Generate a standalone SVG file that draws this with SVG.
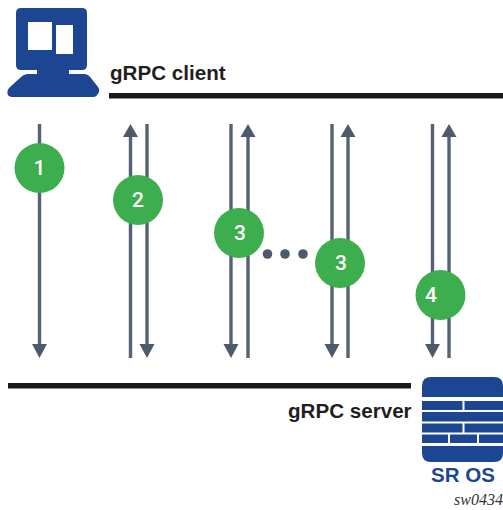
<svg xmlns="http://www.w3.org/2000/svg" width="503" height="510" viewBox="0 0 503 510">
<style>
.c{stroke:#566273;stroke-width:3.4;fill:none}
.h{fill:#4d5a6b}
.bar{fill:#1a1a1a}
.n{fill:#3dae4d}
.nt{font:500 21px "Roboto","Liberation Sans",sans-serif;fill:#fff;text-anchor:middle}
.lb{font:700 20.600px "Liberation Sans",Arial,sans-serif;fill:#1f1f1f}
.b{fill:#1c4691}
</style>
<rect width="503" height="510" fill="#fff"/>
<g id="connectors">
<path class="c" d="M39.500 124V346"/><path class="h" d="M32 344H47L39.500 358Z"/>
<path class="c" d="M130.500 136V358"/><path class="h" d="M123 137H138L130.500 124Z"/>
<path class="c" d="M147 124V346"/><path class="h" d="M139.500 344H154.500L147 358Z"/>
<path class="c" d="M231 124V346"/><path class="h" d="M223.500 344H238.500L231 358Z"/>
<path class="c" d="M248 136V358"/><path class="h" d="M240.500 137H255.500L248 124Z"/>
<path class="c" d="M332 124V346"/><path class="h" d="M324.500 344H339.500L332 358Z"/>
<path class="c" d="M348 136V358"/><path class="h" d="M340.500 137H355.500L348 124Z"/>
<path class="c" d="M432.500 124V346"/><path class="h" d="M425 344H440L432.500 358Z"/>
<path class="c" d="M449 136V358"/><path class="h" d="M441.500 137H456.500L449 124Z"/>
<circle class="h" cx="267.500" cy="254" r="4.800"/><circle class="h" cx="285" cy="254" r="4.800"/><circle class="h" cx="303" cy="254" r="4.800"/>
</g>
<g id="client">
<path class="b" fill-rule="evenodd" d="M21 8H82Q87 8 87 13V65Q87 70 82 70H69V74H84Q88 74 91 78L98 87Q101 91 97 95Q96 97 92 97H14Q9 97 8 95Q6 91 10 87L20 78Q24 74 28 74H37V70H21Q16 70 16 65V13Q16 8 21 8ZM28 22V50H52V22ZM56 25V54H73V25Z"/>
<rect class="bar" x="109" y="93" width="394" height="5.500"/>
<text class="lb" x="110" y="80">gRPC client</text>
</g>
<g id="server">
<rect class="bar" x="8" y="383" width="403" height="5.500"/>
<text class="lb" x="288" y="418">gRPC server</text>
<g class="b">
<path d="M431 377H494Q503 377 503 386V397H422V386Q422 377 431 377Z"/>
<rect x="422" y="401" width="40.500" height="9"/><rect x="464.500" y="401" width="38.500" height="9"/>
<rect x="422" y="412" width="81" height="9.500"/>
<rect x="422" y="423.500" width="40.500" height="9"/><rect x="464.500" y="423.500" width="38.500" height="9"/>
<rect x="422" y="434.500" width="26" height="8.500"/><rect x="450" y="434.500" width="27" height="8.500"/><rect x="479" y="434.500" width="24" height="8.500"/>
<path d="M422 446H503V453Q503 462 494 462H431Q422 462 422 453Z"/>
</g>
<text x="463" y="482" text-anchor="middle" style="font:700 20.500px 'Liberation Sans',Arial,sans-serif;fill:#1c4691">SR OS</text>
</g>
<g id="n1"><circle class="n" cx="39.500" cy="168" r="25"/><text class="nt" x="39.500" y="175">1</text></g>
<g id="n2"><circle class="n" cx="138" cy="200" r="25"/><text class="nt" x="138" y="207">2</text></g>
<g id="n3a"><circle class="n" cx="239" cy="233" r="25"/><text class="nt" x="240" y="240">3</text></g>
<g id="n3b"><circle class="n" cx="340" cy="263" r="25"/><text class="nt" x="341" y="270">3</text></g>
<g id="n4"><circle class="n" cx="440.500" cy="295" r="25"/><text class="nt" x="431" y="302">4</text></g>
<text id="ref" x="503" y="505" text-anchor="end" style="font:italic 16px 'Liberation Serif','Times New Roman',serif;fill:#333">sw0434</text>
</svg>
